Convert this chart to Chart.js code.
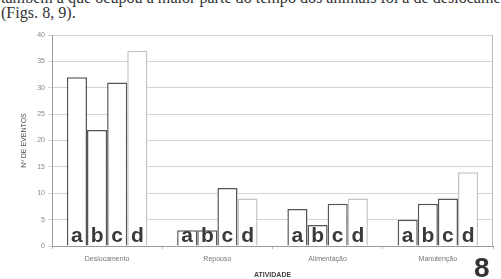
<!DOCTYPE html>
<html>
<head>
<meta charset="utf-8">
<script src="https://cdn.jsdelivr.net/npm/chart.js@4/dist/chart.umd.min.js"></script>
<style>
  body { margin: 0; background: #fff; }
  #wrap { position: relative; width: 501px; height: 279px; overflow: hidden; }
  #texto { position: absolute; left: 1px; top: -10px; font: 16.1px "Liberation Serif", serif; line-height: 15px; color: #333; white-space: nowrap; }
  #fig { position: absolute; left: 474px; top: 252px; font: bold 28px "Liberation Sans", Arial, sans-serif; color: #333; }
  canvas { position: absolute; left: 0; top: 0; }
</style>
</head>
<body>
<div id="wrap">
  <div id="texto">também a que ocupou a maior parte do tempo dos animais foi a de deslocamento<br>(Figs. 8, 9).</div>
  <canvas id="chart" width="501" height="279"></canvas>
  <div id="fig">8</div>
</div>
<script>
// categorias e valores
const atividades = ['Deslocamento', 'Repouso', 'Alimentação', 'Manutenção'];
const letras = ['a', 'b', 'c', 'd'];
const serieA = [32, 3, 7, 5];
const serieB = [22, 3, 4, 8];
const serieC = [31, 11, 8, 9];
const serieD = [37, 9, 9, 14];
const ticksY = [0, 5, 10, 15, 20, 25, 30, 35, 40];

const escuro = '#555';
const claro = '#c4c4c4';

// letras dentro das barras + moldura da área do gráfico
const letrasPlugin = {
  id: 'letras',
  afterDatasetsDraw(chart) {
    const ctx = chart.ctx;
    ctx.save();
    ctx.font = 'bold 21px "Liberation Sans", Arial, sans-serif';
    ctx.fillStyle = '#3a3a3a';
    ctx.textAlign = 'center';
    ctx.textBaseline = 'alphabetic';
    chart.data.datasets.forEach((ds, i) => {
      chart.getDatasetMeta(i).data.forEach(bar => {
        ctx.fillText(ds.label, bar.x, chart.chartArea.bottom - 4);
      });
    });
    const a = chart.chartArea;
    ctx.strokeStyle = '#bbb';
    ctx.lineWidth = 1;
    ctx.beginPath();
    ctx.moveTo(a.right - 0.5, a.top);
    ctx.lineTo(a.right - 0.5, a.bottom);
    ctx.stroke();
    ctx.restore();
  }
};

const ctx = document.getElementById('chart').getContext('2d');

new Chart(ctx, {
  type: 'bar',
  data: {
    labels: atividades,
    datasets: [serieA, serieB, serieC, serieD].map((data, i) => ({
      label: letras[i],
      data,
      backgroundColor: '#fff',
      borderColor: i < 3 ? escuro : claro,
      borderWidth: 1.5,
      categoryPercentage: 0.73,
      barPercentage: 1.0
    }))
  },
  options: {
    responsive: false,
    animation: false,
    layout: { padding: { left: 20, right: 8, top: 35, bottom: 0 } },
    plugins: { legend: { display: false }, tooltip: { enabled: false } },
    scales: {
      x: {
        grid: { display: true, drawOnChartArea: false, offset: true, color: '#bbb', tickLength: 3 },
        border: { color: '#999' },
        ticks: { color: '#777', font: { size: 7, family: 'Liberation Sans' }, padding: 6 },
        title: { display: true, text: 'ATIVIDADE', color: '#444', font: { size: 7, weight: 'bold', family: 'Liberation Sans' }, padding: { top: 4, bottom: 0 } },
        afterFit(scale) { scale.height = 33; }
      },
      y: {
        min: 0,
        max: 40,
        afterBuildTicks(scale) { scale.ticks = ticksY.map(v => ({ value: v })); },
        grid: { color: '#d4d4d4', tickLength: 4 },
        border: { color: '#999' },
        ticks: { color: '#888', font: { size: 7, family: 'Liberation Sans' }, padding: 3 },
        title: { display: true, text: 'Nº DE EVENTOS', color: '#555', font: { size: 7, family: 'Liberation Sans' }, padding: { top: 0, bottom: 0 } },
        afterFit(scale) { scale.width = 32; }
      }
    }
  },
  plugins: [letrasPlugin]
});
</script>
</body>
</html>
